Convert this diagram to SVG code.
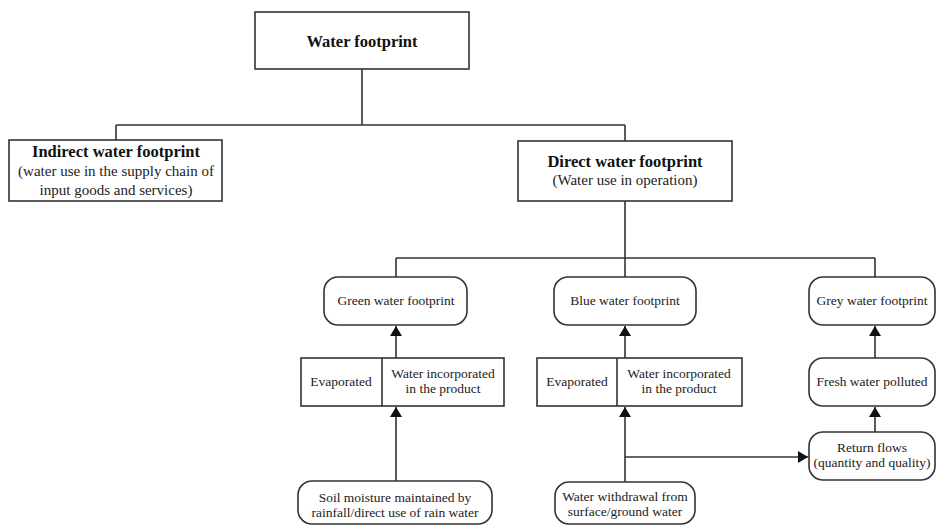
<svg xmlns="http://www.w3.org/2000/svg" width="936" height="526" viewBox="0 0 936 526">
<defs>
<marker id="arr" markerWidth="10" markerHeight="12" refX="10" refY="5" orient="auto" markerUnits="userSpaceOnUse" viewBox="0 0 10 10" preserveAspectRatio="none">
<path d="M0,0 L10,5 L0,10 Z" fill="#111"/>
</marker>
<style>
.box{fill:#fff;stroke:#333;stroke-width:1.6}
.ln{fill:none;stroke:#333;stroke-width:1.6}
.b{font-family:"Liberation Serif","Times New Roman",serif;font-weight:bold;font-size:16.5px;fill:#111;text-anchor:middle}
.t{font-family:"Liberation Serif","Times New Roman",serif;font-size:15px;fill:#222;text-anchor:middle}
.s{font-family:"Liberation Serif","Times New Roman",serif;font-size:13.5px;fill:#222;text-anchor:middle}
</style>
</defs>
<rect width="936" height="526" fill="#fff"/>
<g id="connectors">
<path class="ln" d="M362,69 V125 M116,125 H625 M116,125 V140 M625,125 V141"/>
<path class="ln" d="M625,201 V258 M396,258 H875 M396,258 V277 M625,258 V277 M875,258 V277"/>
<path class="ln" d="M396,358 V326" marker-end="url(#arr)"/>
<path class="ln" d="M625,358 V326" marker-end="url(#arr)"/>
<path class="ln" d="M875,358 V326" marker-end="url(#arr)"/>
<path class="ln" d="M396,481 V407" marker-end="url(#arr)"/>
<path class="ln" d="M625,482 V407" marker-end="url(#arr)"/>
<path class="ln" d="M875,432 V407" marker-end="url(#arr)"/>
<path class="ln" d="M625,457 H808" marker-end="url(#arr)"/>
</g>
<g id="water-footprint">
<rect class="box" x="255" y="12" width="214" height="57"/>
<text class="b" x="362" y="47">Water footprint</text>
</g>
<g id="indirect">
<rect class="box" x="9" y="140" width="213" height="61"/>
<text class="b" x="116" y="157">Indirect water footprint</text>
<text class="t" x="116" y="176">(water use in the supply chain of</text>
<text class="t" x="116" y="195">input goods and services)</text>
</g>
<g id="direct">
<rect class="box" x="518" y="141" width="214" height="60"/>
<text class="b" x="625" y="167">Direct water footprint</text>
<text class="t" x="625" y="185">(Water use in operation)</text>
</g>
<g id="green">
<rect class="box" x="324" y="277" width="143" height="48" rx="14"/>
<text class="s" x="396" y="305">Green water footprint</text>
</g>
<g id="blue">
<rect class="box" x="554" y="277" width="142" height="48" rx="14"/>
<text class="s" x="625" y="305">Blue water footprint</text>
</g>
<g id="grey">
<rect class="box" x="809" y="277" width="126" height="48" rx="14"/>
<text class="s" x="872" y="305">Grey water footprint</text>
</g>
<g id="green-split">
<rect class="box" x="301" y="358" width="203" height="48"/>
<path class="ln" d="M382,358 V406"/>
<text class="s" x="341" y="386">Evaporated</text>
<text class="s" x="443" y="378">Water incorporated</text>
<text class="s" x="443" y="393">in the product</text>
</g>
<g id="blue-split">
<rect class="box" x="537" y="358" width="205" height="48"/>
<path class="ln" d="M617,358 V406"/>
<text class="s" x="577" y="386">Evaporated</text>
<text class="s" x="679" y="378">Water incorporated</text>
<text class="s" x="679" y="393">in the product</text>
</g>
<g id="fresh-water">
<rect class="box" x="809" y="358" width="126" height="48" rx="14"/>
<text class="s" x="872" y="386">Fresh water polluted</text>
</g>
<g id="return-flows">
<rect class="box" x="809" y="432" width="126" height="48" rx="14"/>
<text class="s" x="872" y="452">Return flows</text>
<text class="s" x="872" y="467">(quantity and quality)</text>
</g>
<g id="soil-moisture">
<rect class="box" x="298" y="481" width="194" height="43" rx="14"/>
<text class="s" x="395" y="502">Soil moisture maintained by</text>
<text class="s" x="395" y="517">rainfall/direct use of rain water</text>
</g>
<g id="withdrawal">
<rect class="box" x="555" y="482" width="140" height="42" rx="14"/>
<text class="s" x="625" y="501">Water withdrawal from</text>
<text class="s" x="625" y="516">surface/ground water</text>
</g>
</svg>
